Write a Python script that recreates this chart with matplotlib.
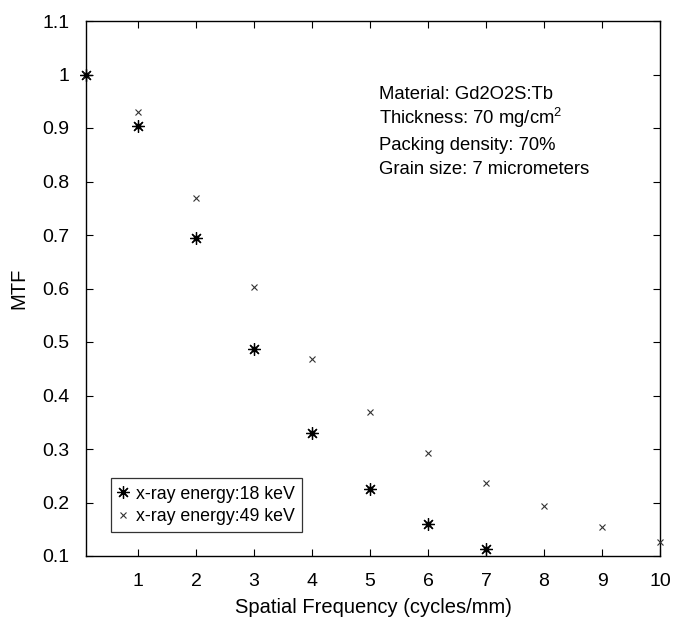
import matplotlib

matplotlib.use("Agg")

import matplotlib.pyplot as plt

plt.rcParams["font.family"] = ["Liberation Sans", "DejaVu Sans"]

freq_18 = [0.1, 1, 2, 3, 4, 5, 6, 7]
mtf_18 = [1.0, 0.904, 0.694, 0.486, 0.329, 0.225, 0.159, 0.114]

freq_49 = [0.1, 1, 2, 3, 4, 5, 6, 7, 8, 9, 10]
mtf_49 = [1.0, 0.930, 0.770, 0.603, 0.468, 0.369, 0.293, 0.237, 0.194, 0.155, 0.127]

x_ticks = [1, 2, 3, 4, 5, 6, 7, 8, 9, 10]
y_ticks = [0.1, 0.2, 0.3, 0.4, 0.5, 0.6, 0.7, 0.8, 0.9, 1.0, 1.1]
y_tick_labels = ["0.1", "0.2", "0.3", "0.4", "0.5", "0.6", "0.7", "0.8", "0.9", "1", "1.1"]

info_lines = [
    "Material: Gd2O2S:Tb",
    "Thickness: 70 mg/cm$^2$",
    "Packing density: 70%",
    "Grain size: 7 micrometers",
]

plt.rcParams["mathtext.fontset"] = "custom"
plt.rcParams["mathtext.rm"] = "Liberation Sans"
plt.rcParams["mathtext.it"] = "Liberation Sans"
plt.rcParams["mathtext.default"] = "regular"

fig = plt.figure(figsize=(6.73, 6.21), dpi=100)
ax = fig.add_axes([86 / 673, 1 - 556 / 621, (660 - 86) / 673, (556 - 21) / 621])

ax.plot(
    freq_18, mtf_18,
    linestyle="None", marker=(8, 2, 0), markersize=9, markeredgewidth=0.9,
    color="black", clip_on=False, zorder=3, label="x-ray energy:18 keV",
)
ax.plot(
    freq_18, mtf_18,
    linestyle="None", marker="o", markersize=3.2, color="black",
    clip_on=False, zorder=4,
)
ax.plot(
    freq_49, mtf_49,
    linestyle="None", marker="x", markersize=5, markeredgewidth=0.8,
    color="#333333", clip_on=False, zorder=3, label="x-ray energy:49 keV",
)

ax.set_xlim(0.1, 10)
ax.set_ylim(0.1, 1.1)
ax.set_xticks(x_ticks)
ax.set_yticks(y_ticks, y_tick_labels)
ax.tick_params(direction="in", length=5, width=0.8, top=True, right=True,
               labelsize=14)
ax.tick_params(axis="x", pad=12)
ax.tick_params(axis="y", pad=12)
for spine in ax.spines.values():
    spine.set_linewidth(1.0)

ax.set_xlabel("Spatial Frequency (cycles/mm)", fontsize=14.5, va="baseline")
ax.xaxis.set_label_coords(0.5, (556 - 613) / 535)
ax.set_ylabel("MTF", fontsize=14.5, va="center")
ax.yaxis.set_label_coords((19 - 86) / 574, 0.5)

baselines = [99, 124, 150, 174]
for line, pix in zip(info_lines, baselines):
    ax.text(0.51, (556 - pix) / 535, line, transform=ax.transAxes,
            fontsize=13.3, va="baseline", ha="left")

legend = ax.legend(
    loc="lower left", bbox_to_anchor=((111 - 86) / 574, (556 - 532) / 535),
    fontsize=12.8, frameon=True, fancybox=False, edgecolor="black",
    handlelength=0.6, handletextpad=0.4, borderpad=0.4, labelspacing=0.3,
    borderaxespad=0,
)
legend.get_frame().set_linewidth(0.9)

fig.savefig("out.png", dpi=100)
